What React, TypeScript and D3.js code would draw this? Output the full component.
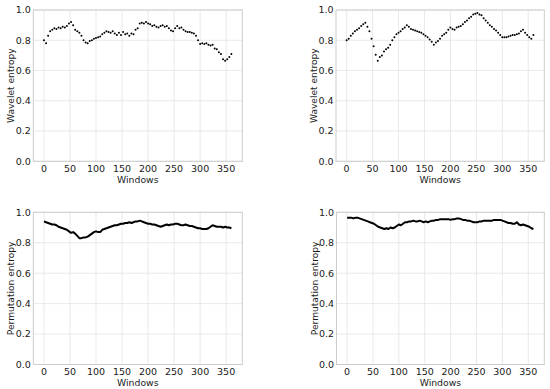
import React from "react";
import * as d3 from "d3";

// window index (every 4th window)
const windows = d3.range(0, 361, 4);
const xTicks = [0, 50, 100, 150, 200, 250, 300, 350];
const yTicks = [0, 0.2, 0.4, 0.6, 0.8, 1.0];

const waveletLeft = [
  0.80, 0.78, 0.83, 0.86, 0.87, 0.88, 0.875, 0.885, 0.88, 0.89,
  0.885, 0.895, 0.91, 0.92, 0.90, 0.87, 0.86, 0.85, 0.83, 0.80,
  0.785, 0.78, 0.795, 0.80, 0.81, 0.815, 0.82, 0.825, 0.84, 0.85,
  0.86, 0.855, 0.85, 0.86, 0.845, 0.835, 0.85, 0.835, 0.855, 0.84,
  0.845, 0.83, 0.845, 0.84, 0.87, 0.88, 0.91, 0.915, 0.91, 0.92,
  0.91, 0.905, 0.895, 0.90, 0.89, 0.885, 0.895, 0.90, 0.89, 0.895,
  0.88, 0.865, 0.86, 0.88, 0.895, 0.88, 0.885, 0.87, 0.86, 0.855,
  0.855, 0.85, 0.845, 0.83, 0.80, 0.775, 0.78, 0.775, 0.78, 0.77,
  0.765, 0.77, 0.745, 0.74, 0.72, 0.71, 0.675, 0.665, 0.675, 0.69,
  0.71,
];

const waveletRight = [
  0.80, 0.81, 0.83, 0.845, 0.86, 0.87, 0.88, 0.895, 0.905, 0.915,
  0.89, 0.86, 0.81, 0.76, 0.705, 0.665, 0.69, 0.70, 0.725, 0.74,
  0.75, 0.77, 0.80, 0.82, 0.84, 0.85, 0.86, 0.875, 0.885, 0.90,
  0.89, 0.875, 0.87, 0.865, 0.86, 0.855, 0.85, 0.84, 0.83, 0.82,
  0.805, 0.79, 0.77, 0.785, 0.795, 0.81, 0.83, 0.84, 0.85, 0.87,
  0.885, 0.875, 0.87, 0.885, 0.89, 0.895, 0.905, 0.92, 0.93, 0.945,
  0.955, 0.97, 0.975, 0.98, 0.97, 0.965, 0.945, 0.93, 0.915, 0.90,
  0.89, 0.875, 0.865, 0.85, 0.835, 0.82, 0.82, 0.82, 0.825, 0.83,
  0.835, 0.835, 0.84, 0.845, 0.86, 0.87, 0.85, 0.835, 0.82, 0.81,
  0.835,
];

const permutationLeft = [
  0.94, 0.935, 0.93, 0.925, 0.92, 0.92, 0.915, 0.905, 0.90, 0.895,
  0.89, 0.885, 0.875, 0.865, 0.87, 0.86, 0.845, 0.83, 0.83, 0.835,
  0.835, 0.84, 0.85, 0.86, 0.87, 0.875, 0.87, 0.87, 0.885, 0.89,
  0.895, 0.90, 0.905, 0.91, 0.915, 0.915, 0.92, 0.925, 0.925, 0.93,
  0.93, 0.935, 0.93, 0.935, 0.94, 0.94, 0.945, 0.94, 0.935, 0.93,
  0.925, 0.925, 0.92, 0.92, 0.915, 0.91, 0.905, 0.91, 0.915, 0.92,
  0.915, 0.92, 0.92, 0.925, 0.925, 0.92, 0.915, 0.915, 0.92, 0.915,
  0.91, 0.91, 0.905, 0.90, 0.895, 0.895, 0.89, 0.89, 0.89, 0.895,
  0.905, 0.915, 0.91, 0.905, 0.905, 0.905, 0.90, 0.905, 0.90, 0.90,
  0.895,
];

const permutationRight = [
  0.965, 0.965, 0.965, 0.96, 0.965, 0.965, 0.96, 0.955, 0.95, 0.945,
  0.94, 0.935, 0.93, 0.925, 0.915, 0.905, 0.90, 0.895, 0.89, 0.895,
  0.89, 0.90, 0.895, 0.90, 0.91, 0.92, 0.915, 0.925, 0.935, 0.935,
  0.94, 0.94, 0.945, 0.94, 0.94, 0.945, 0.94, 0.935, 0.94, 0.935,
  0.94, 0.945, 0.945, 0.95, 0.95, 0.955, 0.955, 0.955, 0.955, 0.955,
  0.95, 0.955, 0.955, 0.96, 0.96, 0.955, 0.95, 0.95, 0.945, 0.945,
  0.94, 0.935, 0.935, 0.935, 0.94, 0.94, 0.945, 0.945, 0.945, 0.945,
  0.945, 0.95, 0.95, 0.95, 0.95, 0.945, 0.94, 0.935, 0.93, 0.93,
  0.925, 0.925, 0.935, 0.92, 0.915, 0.92, 0.915, 0.91, 0.905, 0.895,
  0.89,
];

const panels = [
  { left: 33.3, top: 10, right: 242.3, bottom: 161.3, label: "Wavelet entropy", values: waveletLeft, mode: "dots" },
  { left: 336, top: 10, right: 544.3, bottom: 161.3, label: "Wavelet entropy", values: waveletRight, mode: "dots" },
  { left: 33.3, top: 212.3, right: 242.3, bottom: 364.5, label: "Permutation entropy", values: permutationLeft, mode: "line" },
  { left: 336.5, top: 212.3, right: 544.3, bottom: 364.5, label: "Permutation entropy", values: permutationRight, mode: "line" },
];

const font = "DejaVu Sans, sans-serif";
const textColor = "#1a1a1a";

function Panel({ p }) {
  const x = d3.scaleLinear().domain([-20.5, 381]).range([p.left, p.right]);
  const y = d3.scaleLinear().domain([0, 1]).range([p.bottom, p.top]);
  const pts = windows.map((w, i) => [w, p.values[i]]);
  const line = d3
    .line()
    .x((d) => x(d[0]))
    .y((d) => y(d[1]));

  return (
    <g>
      {/* grid */}
      {xTicks.map((t) => (
        <line key={"gx" + t} x1={x(t)} x2={x(t)} y1={p.top} y2={p.bottom} stroke="#e3e3e3" strokeWidth={0.8} />
      ))}
      {yTicks.map((t) => (
        <line key={"gy" + t} x1={p.left} x2={p.right} y1={y(t)} y2={y(t)} stroke="#e3e3e3" strokeWidth={0.8} />
      ))}
      <rect
        x={p.left}
        y={p.top}
        width={p.right - p.left}
        height={p.bottom - p.top}
        fill="none"
        stroke="#cccccc"
        strokeWidth={1}
      />

      {/* data */}
      {p.mode === "dots" ? (
        pts.map((d, i) => <circle key={i} cx={x(d[0])} cy={y(d[1])} r={1} fill="#000" />)
      ) : (
        <path d={line(pts)} fill="none" stroke="#000" strokeWidth={2} strokeLinejoin="round" />
      )}

      {/* tick labels */}
      {xTicks.map((t) => (
        <text key={"tx" + t} x={x(t)} y={p.bottom + 10.3} textAnchor="middle" fontSize={9.5} fontFamily={font} fill={textColor}>
          {t}
        </text>
      ))}
      {yTicks.map((t) => (
        <text
          key={"ty" + t}
          x={p.left - 2.5}
          y={y(t)}
          dy="0.35em"
          textAnchor="end"
          fontSize={9.5}
          fontFamily={font}
          fill={textColor}
        >
          {t.toFixed(1)}
        </text>
      ))}

      {/* axis labels */}
      <text
        x={(p.left + p.right) / 2}
        y={p.bottom + 21.2}
        textAnchor="middle"
        fontSize={9.3}
        fontFamily={font}
        fill={textColor}
      >
        Windows
      </text>
      <text
        transform={`translate(${p.left - 22},${(p.top + p.bottom) / 2}) rotate(-90)`}
        textAnchor="middle"
        dominantBaseline="central"
        fontSize={9.1}
        fontFamily={font}
        fill={textColor}
      >
        {p.label}
      </text>
    </g>
  );
}

export default function App() {
  return (
    <svg
      width={550}
      height={389}
      style={{ position: "absolute", left: 0, top: 0, background: "#fff" }}
    >
      <rect width={550} height={389} fill="#fff" />
      {panels.map((p, i) => (
        <Panel key={i} p={p} />
      ))}
    </svg>
  );
}
